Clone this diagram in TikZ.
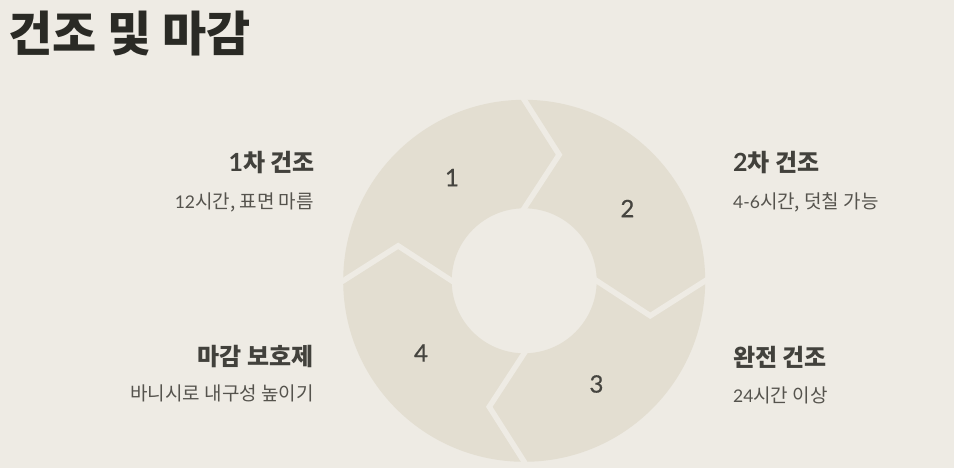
\documentclass[tikz,border=0pt]{standalone}
\usepackage{fontspec}
\setmainfont{Noto Sans CJK KR}
\newfontfamily\lt{Lato}
\newfontfamily\ltnum{Lato}[FakeBold=0.6]
\definecolor{bg}{HTML}{EEEBE4}
\definecolor{ringc}{HTML}{E3DED1}
\definecolor{titlec}{HTML}{2A2A25}
\definecolor{headc}{HTML}{42413C}
\definecolor{descc}{HTML}{55534D}
\definecolor{numc}{HTML}{45443F}
\tikzset{
  titletext/.style={font=\fontsize{48}{52}\selectfont\bfseries, text=titlec, inner sep=0pt},
  headtext/.style={font=\fontsize{24}{28}\selectfont\bfseries, text=headc, inner sep=0pt},
  desctext/.style={font=\fontsize{19}{22}\selectfont, text=descc, inner sep=0pt},
  numtext/.style={font=\fontsize{24}{27}\selectfont\ltnum, text=numc, inner sep=0pt},
  sepline/.style={draw=bg, line width=5.5pt, line join=miter, shorten <=-4pt, shorten >=-4pt},
}
\newcommand{\hd}[1]{{\fontsize{25}{26}\selectfont\lt\bfseries #1}}
\newcommand{\ds}[1]{{\fontsize{17.5}{20}\selectfont\lt #1}}
\begin{document}
\begin{tikzpicture}[x=1pt,y=1pt]
\fill[bg] (0,0) rectangle (954,468);
\useasboundingbox (0,0) rectangle (954,468);
\coordinate (C) at (524.2,187.2);
\fill[ringc, even odd rule] (C) circle (181) (C) circle (72.5);
\begin{scope}[shift={(C)}]
  \coordinate (s1o) at (90:181);  \coordinate (s1t) at (74.5:130.8);  \coordinate (s1i) at (90:72.5);
  \coordinate (s2o) at (0:181);   \coordinate (s2t) at (-15.5:130.8); \coordinate (s2i) at (0:72.5);
  \coordinate (s3o) at (-90:181); \coordinate (s3t) at (-105.5:130.8);\coordinate (s3i) at (-90:72.5);
  \coordinate (s4o) at (180:181); \coordinate (s4t) at (164.5:130.8); \coordinate (s4i) at (180:72.5);
  \node[numtext] (n1) at (125:126) {1};
  \node[numtext] (n2) at (35:126) {2};
  \node[numtext] (n3) at (-55:126) {3};
  \node[numtext] (n4) at (215:126) {4};
\end{scope}
\draw[sepline] (s1o) -- (s1t) -- (s1i);
\draw[sepline] (s2o) -- (s2t) -- (s2i);
\draw[sepline] (s3o) -- (s3t) -- (s3i);
\draw[sepline] (s4o) -- (s4t) -- (s4i);
\node[titletext, anchor=base west] (title) at (8,416) {건조 및 마감};
\node[headtext, anchor=base east] (h1) at (315,296) {\hd{1}차 건조};
\node[desctext, anchor=base east] (d1) at (314,259) {\ds{12}시간, 표면 마름};
\node[headtext, anchor=base west] (h2) at (733,296) {\hd{2}차 건조};
\node[desctext, anchor=base west] (d2) at (733,259) {\ds{4-6}시간, 덧칠 가능};
\node[headtext, anchor=base west] (h3) at (733,101) {완전 건조};
\node[desctext, anchor=base west] (d3) at (733,65) {\ds{24}시간 이상};
\node[headtext, anchor=base east] (h4) at (314,102) {마감 보호제};
\node[desctext, anchor=base east] (d4) at (314,67) {바니시로 내구성 높이기};
\end{tikzpicture}
\end{document}
